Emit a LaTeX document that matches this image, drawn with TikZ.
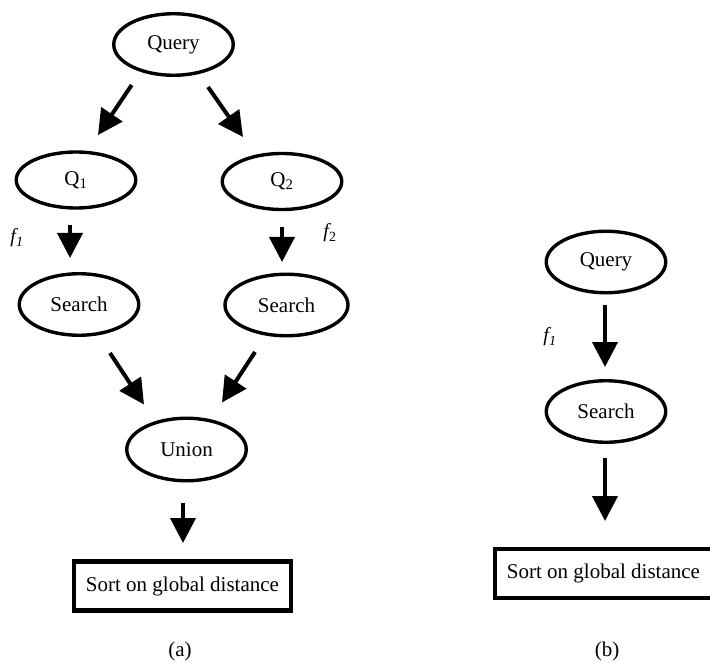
\documentclass[tikz,border=0pt]{standalone}
\usepackage{fontspec}
\setmainfont{Liberation Serif}
\usetikzlibrary{arrows.meta,calc,shapes.geometric}
\begin{document}
\begin{tikzpicture}[x=1pt,y=-1pt,
  oval/.style={ellipse,draw,line width=3.4pt,inner sep=0pt,minimum width=119.5pt,minimum height=61.5pt,font=\fontsize{21}{25}\selectfont},
  qoval/.style={oval,minimum height=56pt},
  sortbox/.style={rectangle,draw,line width=4.5pt,inner sep=0pt,minimum width=217pt,minimum height=49pt,font=\fontsize{21}{25}\selectfont},
  arr/.style={line width=4pt,-{Triangle[length=25pt,width=25pt]}},
  lbl/.style={inner sep=0pt,font=\fontsize{20}{24}\selectfont},
  captext/.style={inner sep=0pt,font=\fontsize{21}{25}\selectfont}]
\useasboundingbox (0,0) rectangle (710,663);
\clip (0,0) rectangle (710,663);
% (a)
\node[oval] (query) at (173.5,44.5) {Query};
\node[qoval] (q1) at (76,180) {Q\textsubscript{1}};
\node[qoval] (q2) at (282,181.5) {Q\textsubscript{2}};
\node[oval] (s1) at (79,304.5) {Search};
\node[oval,minimum width=123pt] (s2) at (286.5,305) {Search};
\node[oval,minimum height=62.5pt] (union) at (186.5,449.5) {Union};
\node[sortbox] (boxa) at (182.5,586) {Sort on global distance};
\node[lbl] (f1) at (17,238) {\itshape f\textsubscript{1}};
\node[lbl] (f2) at (330,233) {{\itshape f}\textsubscript{2}};
\node[captext] (capa) at (180,651) {(a)};
\draw[arr] ($(query.center)+(-41.8,40.5)$) -- ($(q1.center)+(22,-45)$);
\draw[arr] ($(query.center)+(34.5,42.5)$) -- ($(q2.center)+(-39,-44.5)$);
\draw[arr] ($(q1.center)+(-6,45)$) -- ($(s1.center)+(-9,-46.5)$);
\draw[arr] ($(q2.center)+(0,45.5)$) -- ($(s2.center)+(-4.5,-43)$);
\draw[arr] ($(s1.center)+(31,48.5)$) -- ($(union.center)+(-42.5,-45)$);
\draw[arr] ($(s2.center)+(-31.5,47)$) -- ($(union.center)+(35.5,-47)$);
\draw[arr] ($(union.center)+(-3.5,53)$) -- ($(boxa.center)+(0.5,-43)$);
% (b)
\node[oval] (qb) at (606,262) {Query};
\node[oval] (sb) at (606,411.5) {Search};
\node[sortbox] (boxb) at (603.5,573.5) {Sort on global distance};
\node[lbl] (f1b) at (550,337) {\itshape f\textsubscript{1}};
\node[captext] (capb) at (607,651) {(b)};
\draw[arr] ($(qb.center)+(-1,43)$) -- ($(sb.center)+(-1,-44.5)$);
\draw[arr] ($(sb.center)+(-1,46.5)$) -- ($(boxb.center)+(1.5,-52.5)$);
\end{tikzpicture}
\end{document}
